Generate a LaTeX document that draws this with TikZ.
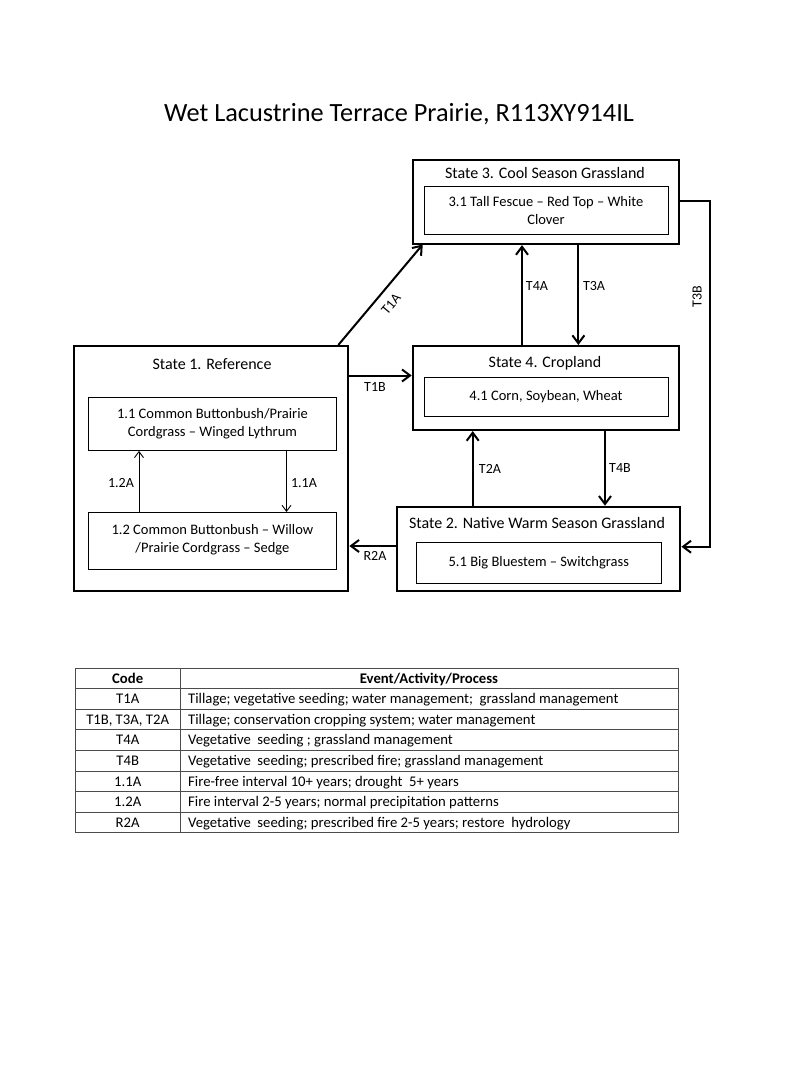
\documentclass[tikz,border=0pt]{standalone}
\usepackage{fontspec}
\setmainfont{Carlito}
\usetikzlibrary{arrows.meta}
\begin{document}
\begin{tikzpicture}[x=1pt,y=-1pt,
  statebox/.style={draw, line width=2.4pt, anchor=north west, inner sep=0pt},
  innerbox/.style={draw, line width=0.9pt, anchor=north west, inner sep=0pt, align=center, font=\fontsize{14.5}{18}\selectfont},
  statetitle/.style={font=\fontsize{16}{19}\selectfont, inner sep=0pt, anchor=base},
  lbl/.style={font=\fontsize{14}{16}\selectfont, inner sep=1pt},
  bigarrow/.style={line width=2pt, -{Straight Barb[length=8pt,width=12pt,line width=2pt]}},
  thinarrow/.style={line width=0.9pt, -{Straight Barb[length=6pt,width=9pt,line width=0.9pt]}},
  tabtext/.style={font=\fontsize{14.7}{17}\selectfont, inner sep=0pt, anchor=base},
  tabline/.style={draw=black!70, line width=0.8pt}
]
\useasboundingbox (0,0) rectangle (800,1067);
\fill[white] (0,0) rectangle (800,1067);

% title
\node[font=\fontsize{26.3}{30}\selectfont, anchor=base, inner sep=0pt] (title) at (399,121.5) {Wet Lacustrine Terrace Prairie, R113XY914IL};

% State 3
\node[statebox, minimum width=266.3pt, minimum height=83.7pt] (s3) at (411.7,159) {};
\node[statetitle] (s3t) at (545,178.2) {State 3. Cool Season Grassland};
\node[innerbox, minimum width=244pt, minimum height=47.7pt] (s31) at (423.5,186) {3.1 Tall Fescue -- Red Top -- White\\Clover};

% State 4
\node[statebox, minimum width=266.3pt, minimum height=83.7pt] (s4) at (411.7,345) {};
\node[statetitle] (s4t) at (545,367.2) {State 4. Cropland};
\node[innerbox, minimum width=244pt, minimum height=39.3pt] (s41) at (423.5,376.7) {4.1 Corn, Soybean, Wheat};

% State 1
\node[statebox, minimum width=274pt, minimum height=245pt] (s1) at (73,345) {};
\node[statetitle] (s1t) at (212,369.5) {State 1. Reference};
\node[innerbox, minimum width=248pt, minimum height=53pt, text depth=3pt] (s11) at (88,397) {1.1 Common Buttonbush/Prairie\\Cordgrass -- Winged Lythrum};
\node[innerbox, minimum width=248pt, minimum height=57pt, text depth=4pt] (s12) at (88,512) {1.2 Common Buttonbush -- Willow\\/Prairie Cordgrass -- Sedge};

% State 2
\node[statebox, minimum width=283.4pt, minimum height=84.3pt] (s2) at (395.6,505.7) {};
\node[statetitle] (s2t) at (537,528.2) {State 2. Native Warm Season Grassland};
\node[innerbox, minimum width=244.7pt, minimum height=40.7pt] (s21) at (416,542) {5.1 Big Bluestem -- Switchgrass};

% helper coordinates
\coordinate (xT4A) at (522,0);
\coordinate (xT3A) at (578.4,0);
\coordinate (xT2A) at (472.7,0);
\coordinate (xT4B) at (605,0);
\coordinate (x12A) at (139,0);
\coordinate (x11A) at (286.5,0);
\coordinate (yT1B) at (0,375.5);
\coordinate (yR2A) at (0,546);
\coordinate (yT3Bs) at (0,201);
\coordinate (yT3Be) at (0,546.7);
\coordinate (T1Astart) at (338.3,345);
\coordinate (T1Aend) at (422.7,244.5);
\coordinate (T3Bc1) at (710,201);
\coordinate (T3Bc2) at (710,546.7);

% connectors
\draw[bigarrow] (T1Astart) -- (T1Aend);
\node[lbl, rotate=50] (lT1A) at (391,304) {T1A};
\draw[bigarrow] (s1.east |- yT1B) -- (s4.west |- yT1B);
\node[lbl] (lT1B) at (375,387) {T1B};
\draw[bigarrow] (s4.north -| xT4A) -- (s3.south -| xT4A);
\node[lbl] (lT4A) at (537,285.7) {T4A};
\draw[bigarrow] (s3.south -| xT3A) -- (s4.north -| xT3A);
\node[lbl] (lT3A) at (594,285.7) {T3A};
\draw[bigarrow] (s2.north -| xT2A) -- (s4.south -| xT2A);
\node[lbl] (lT2A) at (490,469) {T2A};
\draw[bigarrow] (s4.south -| xT4B) -- (s2.north -| xT4B);
\node[lbl] (lT4B) at (620,468) {T4B};
\draw[bigarrow] (s2.west |- yR2A) -- (s1.east |- yR2A);
\node[lbl] (lR2A) at (375,555.5) {R2A};
\draw[bigarrow] (s3.east |- yT3Bs) -- (T3Bc1) -- (T3Bc2) -- (s2.east |- yT3Be);
\node[lbl, rotate=90] (lT3B) at (697,296.7) {T3B};
\draw[thinarrow] (s12.north -| x12A) -- (s11.south -| x12A);
\node[lbl] (l12A) at (121,483) {1.2A};
\draw[thinarrow] (s11.south -| x11A) -- (s12.north -| x11A);
\node[lbl] (l11A) at (304,483) {1.1A};

% table
\draw[tabline] (75,668) rectangle (678,832.8);
\foreach \i in {1,...,7} {\draw[tabline] (75,668+\i*20.6) -- (678,668+\i*20.6);}
\draw[tabline] (180.5,668) -- (180.5,832.8);
\node[tabtext, font=\fontsize{14.7}{17}\bfseries] (hc) at (127.7,683) {Code};
\node[tabtext, font=\fontsize{14.7}{17}\bfseries] (he) at (429,683) {Event/Activity/Process};
\foreach \c/\t [count=\k] in {T1A/{Tillage; vegetative seeding; water management;\ \ grassland management},
  {T1B, T3A, T2A}/{Tillage; conservation cropping system; water management},
  T4A/{Vegetative\ \ seeding ; grassland management},
  T4B/{Vegetative\ \ seeding; prescribed fire; grassland management},
  1.1A/{Fire-free interval 10+ years; drought\ \ 5+ years},
  1.2A/{Fire interval 2-5 years; normal precipitation patterns},
  R2A/{Vegetative\ \ seeding; prescribed fire 2-5 years; restore\ \ hydrology}} {
  \node[tabtext] (c\k) at (127.7,683+\k*20.6) {\c};
  \node[tabtext, anchor=base west] (e\k) at (188,683+\k*20.6) {\t};
}
\end{tikzpicture}
\end{document}
